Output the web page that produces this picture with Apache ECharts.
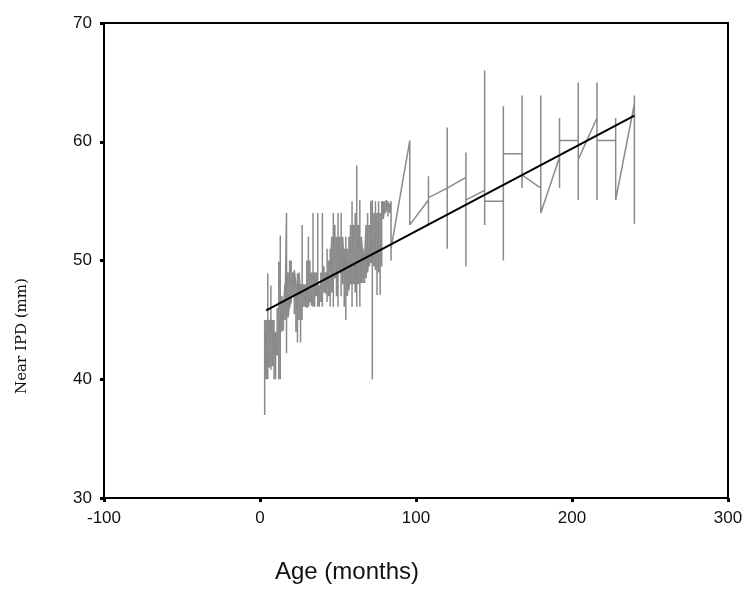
<!DOCTYPE html>
<html>
<head>
<meta charset="utf-8">
<script src="https://cdn.jsdelivr.net/npm/echarts@6/dist/echarts.min.js"></script>
<style>
html, body { margin: 0; padding: 0; background: #fff; }
#chart { width: 750px; height: 595px; }
</style>
</head>
<body>
<div id="chart"></div>
<script>
// age (months) of each group of subjects
var ages = [3, 4, 5, 6, 7, 8, 9, 10, 11, 12, 13, 14, 15, 16, 17, 18, 19, 20,
    21, 22, 23, 24, 25, 26, 27, 28, 29, 30, 31, 32, 33, 34, 35, 36, 37, 38, 39, 40,
    41, 42, 43, 44, 45, 46, 47, 48, 49, 50, 51, 52, 53, 54, 55, 56, 57, 58, 59, 60,
    61, 62, 63, 64, 65, 66, 67, 68, 69, 70, 71, 72, 73, 74, 75, 76, 77, 78, 79, 80,
    81, 82, 83, 84, 96, 108, 120, 132, 144, 156, 168, 180, 192, 204, 216, 228, 240];

// near IPD (mm) of the subjects at each age, in the order the line joins them
var ipdByAge = [
    [42, 37, 45, 41], [44, 40, 45, 42], [41, 48.9, 40, 44], [45, 41, 45], [43, 47.9, 40.8, 44],
    [45, 41.1, 44], [43, 40, 45, 42], [44, 40, 43], [42, 46, 43], [44, 49.9, 40, 45],
    [44, 52.1, 40, 46], [46, 44, 47], [45, 46.4, 44.1, 46], [46, 48, 45], [45, 54, 42.2, 47],
    [47, 49, 45.2], [46.5, 50, 46], [47, 50, 46.4, 48], [48.5, 47, 49], [48, 45.5, 49.2],
    [48, 44, 47], [46, 43.1, 48.9, 47], [48, 45, 49], [47, 43.1, 48], [47, 53, 45, 47],
    [48, 46.1, 47], [46.5, 48, 46.1], [47, 50, 46, 48], [47, 52, 46.1], [47, 50, 46.5],
    [47, 49, 46.2], [47, 54, 46.1, 48], [48, 49, 46.1, 47], [48, 47, 49], [47, 54, 46.1, 48],
    [47.8, 46.1, 47.5], [48, 49, 46.5], [47, 54, 46.1, 48], [48, 49.5, 47.3], [48, 47.2, 49],
    [48, 51, 46.5, 49], [48, 50, 47], [48, 51, 46.1, 49], [49, 52, 47.3], [49, 54, 46.1, 50],
    [50, 53, 48.5], [49, 52, 47], [49, 54, 46.1, 50], [50, 52, 48.9], [50, 54, 47, 51],
    [50, 48, 52], [49, 46.1, 51], [48, 45, 52, 50], [49, 51, 47], [49, 52, 47.5],
    [50, 53, 48], [50, 55, 46.1, 51], [51, 53, 48], [50, 54, 47.3], [50, 58, 46.1, 51],
    [52, 48, 53], [51, 55.1, 46.1, 51], [51, 48.1, 52], [50, 48.1, 51], [49, 48.1, 50],
    [50, 53, 48.5], [51, 54, 49], [51, 53, 49.5], [51, 55, 49.8], [52, 55.1, 40, 51],
    [50, 54, 49.5, 52], [51, 55, 49.2, 53], [52, 54, 47.1, 52], [51, 55, 49, 53], [52, 54, 47.1, 51],
    [52, 55, 49.5, 54], [54, 55, 53.5], [54.5, 55, 54], [54.2, 55.1, 54.5], [55, 53.7, 54.5],
    [54.8, 54], [55, 50, 51], [60.1, 53.0], [55.1, 53.0, 57.1, 55.3], [56.1, 51.0, 61.2, 56.1],
    [57.0, 59.1, 49.5, 55.1], [55.9, 53.0, 66.0, 55.0], [55.0, 50.0, 63.0, 59.0], [59.0, 63.9, 56.1, 57.2],
    [56.1, 63.9, 54.0], [58.7, 56.1, 62.0, 60.1], [60.1, 55.1, 65.0, 58.5], [62.0, 65.0, 55.1, 60.1],
    [60.1, 62.0, 55.1], [63.2, 53.1, 63.9]
];

// linear fit, read at its two ends
var fitAges = [4, 240];
var fitIpd = [45.8, 62.2];

var xTicks = [-100, 0, 100, 200, 300];
var yTicks = [30, 40, 50, 60, 70];

var rawLine = [];
for (var i = 0; i < ages.length; i++) {
    for (var j = 0; j < ipdByAge[i].length; j++) {
        rawLine.push([ages[i], ipdByAge[i][j]]);
    }
}
var fitLine = [];
for (var k = 0; k < fitAges.length; k++) {
    fitLine.push([fitAges[k], fitIpd[k]]);
}

var chart = echarts.init(document.getElementById('chart'));
chart.setOption({
    animation: false,
    backgroundColor: '#fff',
    title: {
        text: 'Age (months)',
        left: 275,
        top: 560,
        padding: 0,
        textStyle: { fontFamily: 'Liberation Sans, Arial', fontSize: 24, fontWeight: 'normal', color: '#111' }
    },
    graphic: [{
        type: 'text',
        x: 22,
        y: 336,
        rotation: Math.PI / 2,
        style: {
            text: 'Near IPD (mm)',
            fontFamily: 'DejaVu Serif',
            fontSize: 15,
            fill: '#111',
            align: 'center',
            verticalAlign: 'middle'
        }
    }],
    grid: {
        left: 104, right: 22, top: 23, bottom: 97,
        show: true, borderColor: '#000', borderWidth: 2
    },
    xAxis: {
        type: 'value',
        min: xTicks[0], max: xTicks[xTicks.length - 1], interval: 100,
        axisLine: { onZero: false, lineStyle: { color: '#000', width: 2 } },
        axisTick: { length: 4, lineStyle: { color: '#000', width: 3 } },
        axisLabel: { margin: 12, fontFamily: 'Liberation Sans, Arial', fontSize: 17, color: '#111' },
        splitLine: { show: false }
    },
    yAxis: {
        type: 'value',
        min: yTicks[0], max: yTicks[yTicks.length - 1], interval: 10,
        axisLine: { onZero: false, lineStyle: { color: '#000', width: 2 } },
        axisTick: { length: 4, lineStyle: { color: '#000', width: 3 } },
        axisLabel: { margin: 12, fontFamily: 'Liberation Sans, Arial', fontSize: 17, color: '#111' },
        splitLine: { show: false }
    },
    series: [{
        name: 'Near IPD',
        type: 'line',
        data: rawLine,
        showSymbol: false,
        lineStyle: { color: '#8a8a8a', width: 1.5 }
    }, {
        name: 'Fit',
        type: 'line',
        data: fitLine,
        showSymbol: false,
        lineStyle: { color: '#000', width: 2 }
    }]
});
</script>
</body>
</html>
